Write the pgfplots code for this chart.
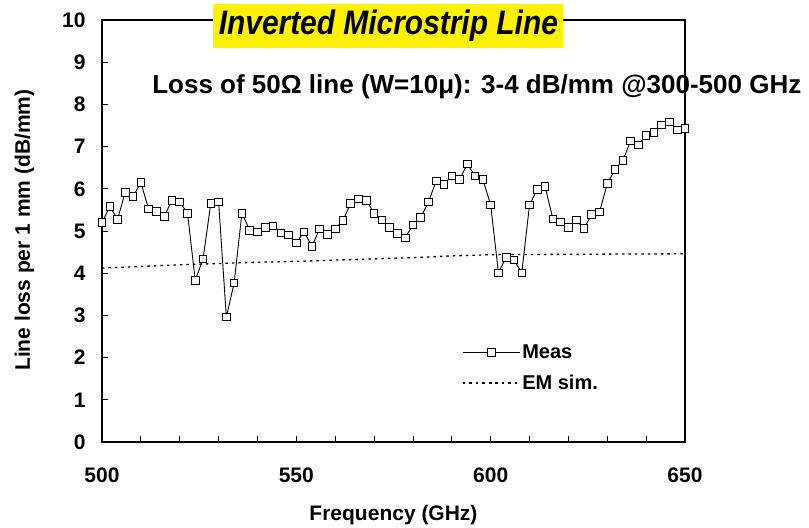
\documentclass[border=0pt]{standalone}
\usepackage{pgfplots}
\pgfplotsset{compat=1.18}
\usepackage{pgfplotstable}
\usepackage{fontspec}
\setmainfont{Liberation Sans}

\pgfplotstableread{
f loss
500 5.20
502 5.58
504 5.28
506 5.92
508 5.82
510 6.15
512 5.52
514 5.46
516 5.35
518 5.72
520 5.69
522 5.42
524 3.83
526 4.34
528 5.66
530 5.69
532 2.96
534 3.77
536 5.42
538 5.02
540 4.98
542 5.09
544 5.12
546 4.95
548 4.91
550 4.72
552 4.98
554 4.64
556 5.05
558 4.92
560 5.05
562 5.25
564 5.66
566 5.76
568 5.73
570 5.42
572 5.26
574 5.09
576 4.94
578 4.84
580 5.14
582 5.32
584 5.69
586 6.19
588 6.11
590 6.30
592 6.22
594 6.59
596 6.30
598 6.22
600 5.62
602 4.01
604 4.38
606 4.31
608 4.01
610 5.62
612 5.99
614 6.05
616 5.29
618 5.21
620 5.09
622 5.26
624 5.06
626 5.39
628 5.45
630 6.12
632 6.46
634 6.67
636 7.13
638 7.04
640 7.27
642 7.34
644 7.51
646 7.58
648 7.39
650 7.43
}\meas

\pgfplotstableread{
f loss
500 4.12
510 4.16
520 4.20
530 4.23
540 4.26
550 4.28
560 4.31
570 4.34
580 4.37
590 4.41
600 4.44
625 4.45
650 4.46
}\emsim

\begin{document}
\begin{tikzpicture}
\begin{axis}[
  scale only axis,
  width=583pt, height=422pt,
  xmin=500, xmax=650, ymin=0, ymax=10,
  xtick={500,550,600,650},
  minor x tick num=4,
  ytick={0,1,...,10},
  tick align=inside,
  xtick pos=bottom, ytick pos=left,
  major tick length=6pt, minor tick length=6pt,
  axis line style={line width=1.5pt},
  every tick/.style={black, line width=0.8pt},
  /pgf/number format/assume math mode=true,
  tick label style={font=\fontsize{21}{25}\selectfont\bfseries},
  xticklabel style={yshift=-22pt},
  yticklabel style={xshift=-13pt},
  xlabel={Frequency (GHz)},
  ylabel={Line loss per 1 mm (dB/mm)},
  label style={font=\fontsize{21}{25}\selectfont\bfseries},
  xlabel style={at={(axis description cs:0.5,-0.172)}, anchor=center},
  ylabel style={at={(axis description cs:-0.133,0.502)}, anchor=center},
  clip=false,
  legend style={at={(axis cs:592.6,2.36)}, anchor=north west, draw=none, fill=none,
    font=\fontsize{20}{24}\selectfont\bfseries, cells={anchor=west},
    row sep=11pt, inner sep=0pt},
  legend image code/.code={\draw[mark repeat=2,mark phase=2,#1] plot coordinates {(0cm,0cm) (1cm,0cm) (2cm,0cm)};},
]
\addplot[black, line width=0.9pt, mark=square*, mark size=3.8pt,
  mark options={fill=white, draw=black, line width=0.9pt, solid}] table[x=f,y=loss] {\meas};
\addlegendentry{Meas}
\addplot[black, line width=1.3pt, dash pattern=on 2.5pt off 4pt] table[x=f,y=loss] {\emsim};
\addlegendentry{EM sim.}
\coordinate (T) at (axis cs:528.6,10.38);
\coordinate (S) at (axis cs:512.9,8.26);
\path (axis cs:473.76,-1.967) rectangle (axis cs:681.9,10.474);
\end{axis}
\node[anchor=north west, fill=yellow, inner sep=0pt, minimum width=350pt, minimum height=44pt,
  font=\fontsize{34}{40}\selectfont\bfseries\itshape] at (T) {\scalebox{0.88}[1]{Inverted Microstrip Line}};
\node[anchor=base west, inner sep=0pt, font=\fontsize{26}{30}\selectfont\bfseries] at (S) {Loss of 50Ω line (W=10μ): 3-4 dB/mm @300-500 GHz};
\end{tikzpicture}
\end{document}
